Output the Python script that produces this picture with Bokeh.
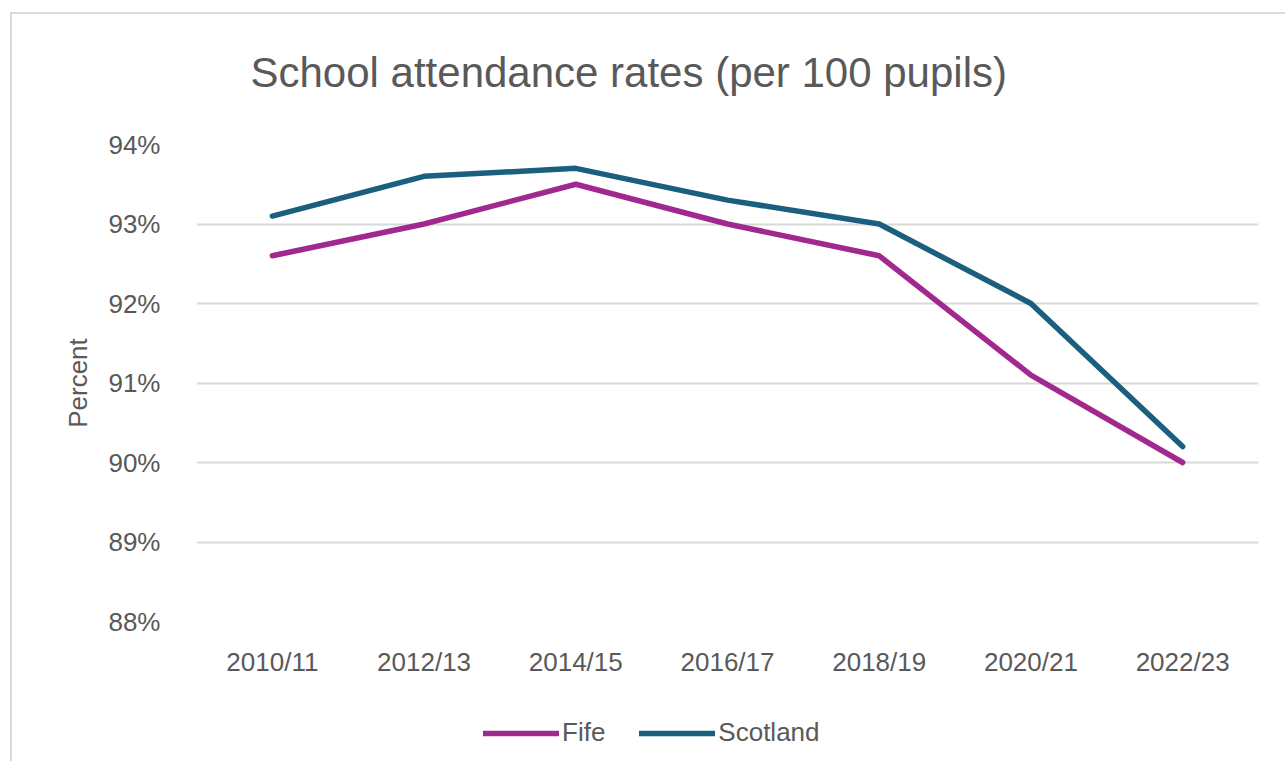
from bokeh.plotting import figure
from bokeh.models import Legend, LegendItem, Range1d, FixedTicker, CustomJSTickFormatter, Label
from bokeh.layouts import column
from bokeh.embed import file_html
from bokeh.resources import INLINE

title_text = "School attendance rates (per 100 pupils)"
years = ["2010/11", "2012/13", "2014/15", "2016/17", "2018/19", "2020/21", "2022/23"]
fife = [92.6, 93.0, 93.5, 93.0, 92.6, 91.1, 90.0]
scotland = [93.1, 93.6, 93.7, 93.3, 93.0, 92.0, 90.2]
y_ticks = [88, 89, 90, 91, 92, 93, 94]

FONT = "Liberation Sans"
TXT = "#595959"
FIFE_C = "#A1288F"
SCOT_C = "#1A5F7E"


def strip(h):
    f = figure(x_range=years, y_range=Range1d(0, 1), width=1273, height=h,
               output_backend="svg", toolbar_location=None, title_location=None,
               min_border_left=0, min_border_right=0, min_border_top=0, min_border_bottom=0)
    f.axis.visible = False
    f.grid.visible = False
    f.outline_line_color = None
    return f


# title strip
tt = strip(100)
tt.add_layout(Label(x=54, y=42, x_units="screen", y_units="screen", text=title_text,
                    text_font=FONT, text_font_size="42px", text_color=TXT,
                    text_baseline="middle", text_align="left"))

# main chart
p = figure(x_range=years, y_range=Range1d(88, 94), frame_width=1062, frame_height=477,
           output_backend="svg", toolbar_location=None, title_location=None,
           min_border_left=184, min_border_right=27, min_border_top=30, min_border_bottom=80)

p.outline_line_color = None
p.xgrid.grid_line_color = None
p.ygrid.grid_line_color = "#d9d9d9"
p.ygrid.grid_line_width = 2
p.yaxis.ticker = FixedTicker(ticks=y_ticks)
p.yaxis.formatter = CustomJSTickFormatter(code="return tick.toFixed(0) + '%';")

for ax in (p.xaxis, p.yaxis):
    ax.axis_line_color = None
    ax.major_tick_line_color = None
    ax.minor_tick_line_color = None
    ax.major_label_text_font = FONT
    ax.major_label_text_font_size = "26px"
    ax.major_label_text_color = TXT
    ax.axis_label_text_font = FONT
    ax.axis_label_text_font_style = "normal"
    ax.axis_label_text_color = TXT

p.yaxis.axis_label = "Percent"
p.yaxis.axis_label_text_font_size = "26px"
p.yaxis.major_label_standoff = 30
p.yaxis.axis_label_standoff = 12
p.xaxis.major_label_standoff = 19

p.line(years, fife, line_color=FIFE_C, line_width=5.5, line_cap="round", line_join="round")
p.line(years, scotland, line_color=SCOT_C, line_width=5.5, line_cap="round", line_join="round")

# legend strip below the chart (series drawn out of view, only the legend shows)
lg = strip(60)
l_fife = lg.line(years, fife, line_color=FIFE_C, line_width=5.5, line_cap="round")
l_scot = lg.line(years, scotland, line_color=SCOT_C, line_width=5.5, line_cap="round")

legend = Legend(items=[LegendItem(label="Fife", renderers=[l_fife]),
                       LegendItem(label="Scotland", renderers=[l_scot])],
                orientation="horizontal", location=(287, 13),
                label_text_font=FONT, label_text_font_size="26px", label_text_color=TXT,
                glyph_width=76, glyph_height=26, label_standoff=3, spacing=34,
                border_line_color=None, background_fill_alpha=0, padding=0, margin=0)
lg.add_layout(legend, "center")

layout = column(tt, p, lg, spacing=0)
layout.margin = (12, 0, 0, 10)
layout.styles = {"border-left": "2px solid #d9d9d9", "border-top": "2px solid #d9d9d9"}

open("out.html", "w").write(file_html(layout, INLINE))
